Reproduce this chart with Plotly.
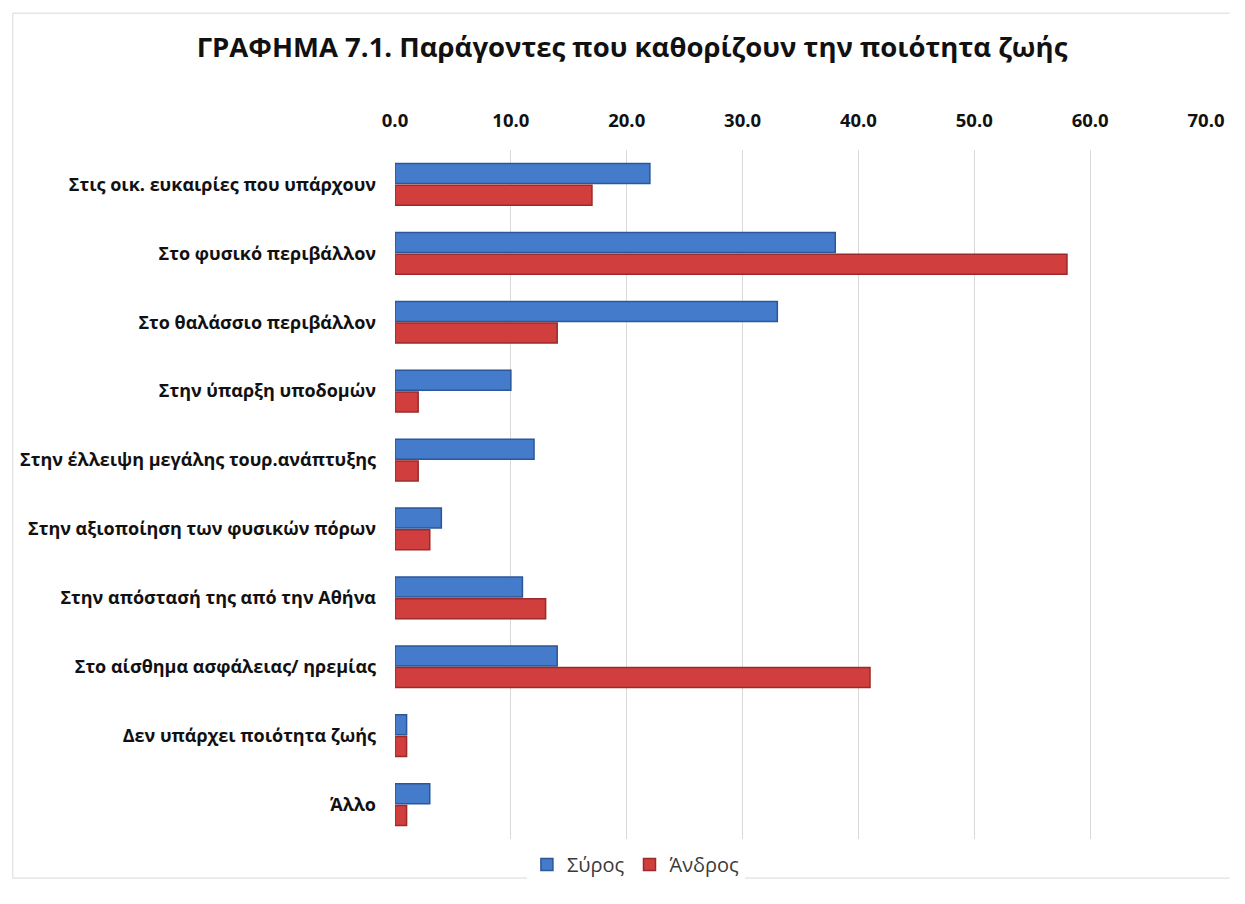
import plotly.graph_objects as go

# categories (top to bottom) and percentages per island
categories = [
    "Στις οικ. ευκαιρίες που υπάρχουν",
    "Στο φυσικό περιβάλλον",
    "Στο θαλάσσιο περιβάλλον",
    "Στην ύπαρξη υποδομών",
    "Στην έλλειψη μεγάλης τουρ.ανάπτυξης",
    "Στην αξιοποίηση των φυσικών πόρων",
    "Στην απόστασή της από την Αθήνα",
    "Στο αίσθημα ασφάλειας/ ηρεμίας",
    "Δεν υπάρχει ποιότητα ζωής",
    "Άλλο",
]
syros = [22, 38, 33, 10, 12, 4, 11, 14, 1, 3]
andros = [17, 58, 14, 2, 2, 3, 13, 41, 1, 1]
x_ticks = [0, 10, 20, 30, 40, 50, 60, 70]

FONT = "Open Sans"
W, H = 1229, 888          # page body keeps its 8px margin, nothing may overflow
L, R, T, B = 386, 25, 142, 41
PW, PH = W - L - R, H - T - B

fig = go.Figure()
fig.add_trace(go.Bar(y=categories, x=syros, name="Σύρος", orientation="h",
                     marker=dict(color="#457bcb", line=dict(color="#2b5796", width=1.5))))
fig.add_trace(go.Bar(y=categories, x=andros, name="Άνδρος", orientation="h",
                     marker=dict(color="#d03e3e", line=dict(color="#9c2a2a", width=1.5))))

fig.update_layout(
    width=W, height=H,
    paper_bgcolor="white", plot_bgcolor="white",
    margin=dict(l=L, r=R, t=T, b=B),
    barmode="group", bargap=0.37, bargroupgap=0.08,
    font=dict(family=FONT, color="#1a1a1a"),
    title=dict(text="<b>ΓΡΑΦΗΜΑ 7.1. Παράγοντες που καθορίζουν την ποιότητα ζωής</b>",
               x=624 / W, xanchor="center", y=1 - 39 / H, yanchor="middle",
               font=dict(size=27.5, color="#111111", family=FONT)),
    legend=dict(orientation="h", x=(629 - L) / PW, xanchor="center", y=-26 / PH, yanchor="middle",
                font=dict(size=20, color="#3a3a3a"), itemwidth=30),
    showlegend=True,
)
fig.update_xaxes(side="top", range=[0, 70], tickvals=x_ticks,
                 ticktext=["<b>%.1f</b>" % v for v in x_ticks],
                 tickfont=dict(size=18.5, color="#111111"),
                 showgrid=True, gridcolor="#d9d9d9", gridwidth=1,
                 zeroline=False, showline=False, ticks="", ticklabelstandoff=18)
fig.update_yaxes(autorange="reversed", tickvals=categories,
                 ticktext=["<b>%s</b>" % c for c in categories],
                 tickfont=dict(size=18, color="#111111"),
                 showgrid=False, showline=False, ticks="", ticklabelstandoff=18)

# outer chart border (left, top and bottom edges, kept inside the figure)
bx0, bx1 = (0.5 - L) / PW, (W - 1 - L) / PW
by0, by1 = -(B - 1) / PH, 1 + (T - 2) / PH
fig.add_shape(type="path", xref="paper", yref="paper",
              path=f"M {bx1},{by1} L {bx0},{by1} L {bx0},{by0} L {bx1},{by0}",
              line=dict(color="#d9d9d9", width=1), layer="below")

fig.write_html("out.html", config={"displayModeBar": False})
